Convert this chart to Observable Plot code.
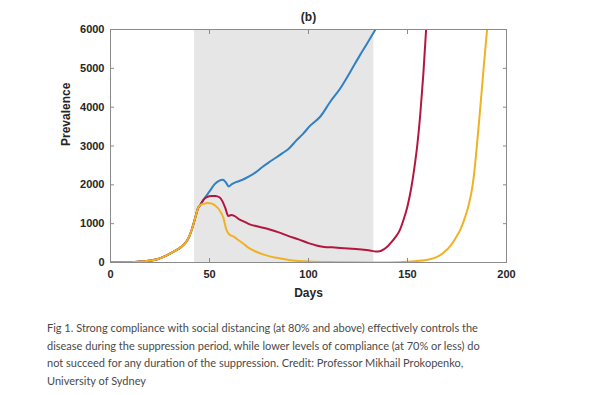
<!DOCTYPE html>
<html><head><meta charset="utf-8">
<script src="https://cdn.jsdelivr.net/npm/d3@7"></script>
<script src="https://cdn.jsdelivr.net/npm/@observablehq/plot@0.6"></script>
<style>
body{margin:0;background:#fff;}
#chart svg{display:block;font-family:"Liberation Sans",Arial,sans-serif;}
#caption{margin:14px 0 0 47px;font-family:Lato,"Noto Sans",sans-serif;font-size:11px;line-height:17.6px;color:#4a4a4a;}
</style></head><body>
<div id="chart"></div>
<div id="caption">Fig 1. Strong compliance with social distancing (at 80% and above) effectively controls the<br>disease during the suppression period, while lower levels of compliance (at 70% or less) do<br>not succeed for any duration of the suppression. Credit: Professor Mikhail Prokopenko,<br>University of Sydney</div>
<script>
// Shared early epidemic (all scenarios identical up to day 45)
const baseDays   = [0, 5, 10, 15, 20, 23.6, 27, 30.3, 33, 35.4, 38.7, 40, 41.2, 42.9, 44.1, 45.3];
const baseValues = [0, 3, 8, 25, 50, 85, 150, 235, 310, 390, 565, 700, 870, 1170, 1390, 1480];

// Blue scenario (lowest compliance)
const blueDays   = [47.5, 50, 52.5, 55, 56.7, 58.3, 59.7, 61.3, 63.3, 66.7, 70, 73.3, 76.7, 80, 83.3, 86.7, 90, 94, 97, 101, 106, 111, 116, 121, 126, 129.6, 133.8];
const blueValues = [1655, 1830, 2010, 2110, 2130, 2060, 1960, 2020, 2070, 2130, 2215, 2320, 2460, 2580, 2690, 2810, 2930, 3150, 3300, 3530, 3760, 4140, 4480, 4900, 5340, 5640, 6000];

// Red scenario
const redDays   = [47, 49, 51, 53, 55, 56.5, 58, 59.5, 61, 62.5, 65, 68, 70, 75, 80, 85, 90, 95, 100, 104, 108, 112, 116, 120, 124, 128, 131, 134, 136, 138, 140, 142, 144, 146, 148, 150, 152, 153.5, 155, 156.5, 158, 159.4];
const redValues = [1620, 1690, 1710, 1715, 1680, 1580, 1400, 1200, 1220, 1200, 1110, 1040, 990, 920, 855, 775, 680, 595, 500, 440, 400, 390, 375, 360, 345, 330, 310, 285, 290, 340, 420, 530, 660, 820, 1100, 1450, 1950, 2450, 3050, 3850, 4850, 6000];

// Yellow scenario (strong compliance)
const yellowDays   = [47, 49, 51, 53, 55, 57, 58.5, 60, 62, 64, 67, 70, 73, 77, 80, 84, 90, 95, 100, 110, 120, 130, 140, 151.5, 160, 165, 168.3, 171.7, 174.2, 176.8, 179.3, 181, 182.7, 183.8, 184.8, 186, 187.2, 188.6, 190.2];
const yellowValues = [1510, 1530, 1520, 1460, 1350, 1150, 850, 720, 670, 600, 490, 370, 290, 210, 165, 120, 65, 40, 25, 10, 5, 2, 3, 26, 69, 146, 258, 430, 620, 860, 1200, 1500, 1930, 2360, 2880, 3550, 4250, 5100, 6000];

const suppression = [{start: 42.5, end: 133}];
const xTicks = [0, 50, 100, 150, 200];
const yTicks = [0, 1000, 2000, 3000, 4000, 5000, 6000];
const yMax = 6000;

const seriesColors = {blue: "#2f80c5", red: "#b3173f", yellow: "#f0b225"};

function build(name, days, values) {
  const pts = baseDays.map((d, i) => ({day: d, value: baseValues[i], series: name}));
  days.forEach((d, i) => pts.push({day: d, value: values[i], series: name}));
  return pts;
}
const blue = build("blue", blueDays, blueValues);
const red = build("red", redDays, redValues);
const yellow = build("yellow", yellowDays, yellowValues);

const FONT = "Liberation Sans, Arial, sans-serif";
const axisFont = {fontSize: 11, fontWeight: "bold", fill: "#262626", fontFamily: FONT, label: null};
const tickStyle = {tickSize: -4, fill: "none", stroke: "#8a8a8a", label: null};
const lineStyle = {x: "day", y: "value", strokeWidth: 2, clip: true, curve: "monotone-x"};

const chart = Plot.plot({
  width: 593, height: 305,
  marginLeft: 110, marginRight: 87, marginTop: 29, marginBottom: 43,
  style: {fontFamily: FONT, background: "#fff"},
  x: {domain: [0, 200], axis: null},
  y: {domain: [0, yMax], axis: null},
  marks: [
    Plot.rectY(suppression, {x1: "start", x2: "end", y1: 0, y2: () => yMax, fill: "#e6e6e6"}),
    Plot.line(blue, {...lineStyle, stroke: seriesColors.blue}),
    Plot.line(red, {...lineStyle, stroke: seriesColors.red}),
    Plot.line(yellow, {...lineStyle, stroke: seriesColors.yellow}),
    Plot.frame({stroke: "#8a8a8a"}),
    Plot.axisX(xTicks, {anchor: "bottom", ...tickStyle}),
    Plot.axisX(xTicks, {anchor: "top", ...tickStyle}),
    Plot.axisY(yTicks, {anchor: "left", ...tickStyle}),
    Plot.axisY(yTicks, {anchor: "right", ...tickStyle}),
    Plot.axisX(xTicks, {anchor: "bottom", tickSize: 0, tickPadding: 8, tickFormat: d => String(d), ...axisFont}),
    Plot.axisY(yTicks, {anchor: "left", tickSize: 0, tickPadding: 6, tickFormat: d => String(d), ...axisFont}),
    Plot.text(["(b)"], {frameAnchor: "top", dy: -12, lineAnchor: "middle", fontSize: 12, fontWeight: "bold", fill: "#262626", fontFamily: FONT}),
    Plot.text(["Days"], {frameAnchor: "bottom", dy: 31, lineAnchor: "middle", fontSize: 12, fontWeight: "bold", fill: "#262626", fontFamily: FONT}),
    Plot.text(["Prevalence"], {frameAnchor: "left", dx: -44, lineAnchor: "middle", rotate: -90, fontSize: 12, fontWeight: "bold", fill: "#262626", fontFamily: FONT})
  ]
});
document.getElementById("chart").appendChild(chart);
</script>
</body></html>
